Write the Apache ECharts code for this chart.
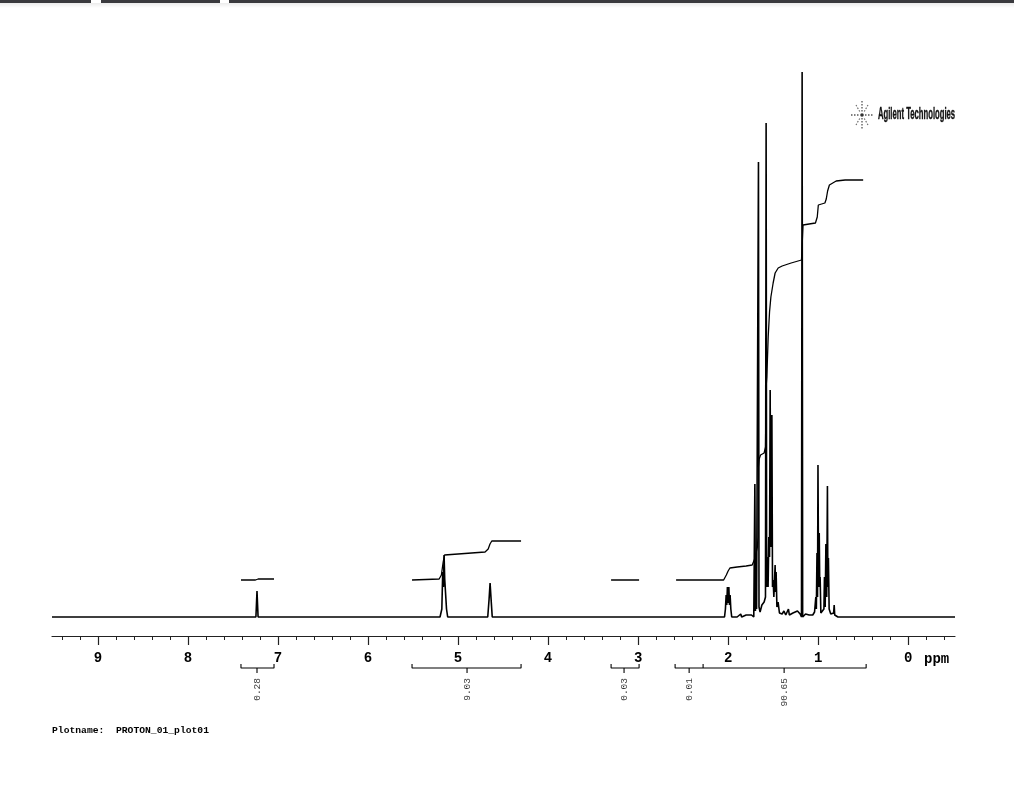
<!DOCTYPE html>
<html>
<head>
<meta charset="utf-8">
<script src="https://cdn.jsdelivr.net/npm/echarts@6/dist/echarts.min.js"></script>
<style>
html,body{margin:0;padding:0;background:#fff;}
#chart{width:1014px;height:785px;}
</style>
</head>
<body>
<div id="chart"></div>
<script>
// ---- data (ppm, intensity) ----
var ppmMin = -0.52, ppmMax = 9.51;
var majorTicks = [0, 1, 2, 3, 4, 5, 6, 7, 8, 9];
var minorTicks = [-0.4, -0.2, 0.2, 0.4, 0.6, 0.8, 1.2, 1.4, 1.6, 1.8, 2.2, 2.4, 2.6, 2.8,
  3.2, 3.4, 3.6, 3.8, 4.2, 4.4, 4.6, 4.8, 5.2, 5.4, 5.6, 5.8, 6.2, 6.4, 6.6, 6.8,
  7.2, 7.4, 7.6, 7.8, 8.2, 8.4, 8.6, 8.8, 9.2, 9.4];

var spectrum = [
  [9.51, 0], [7.245, 0], [7.233, 26], [7.221, 0],
  [5.20, 0], [5.18, 8], [5.17, 45], [5.162, 30], [5.155, 62], [5.148, 38], [5.14, 40], [5.128, 8], [5.115, 0],
  [4.67, 0], [4.655, 18], [4.644, 34], [4.633, 18], [4.62, 0],
  [3.16, 0], [3.156, 1.5], [3.15, 0],
  [2.04, 0], [2.03, 8], [2.022, 22], [2.015, 12], [2.008, 30], [2.0, 14], [1.992, 30], [1.985, 12],
  [1.978, 22], [1.97, 8], [1.96, 0], [1.94, 1], [1.9, 0], [1.86, 3], [1.85, 0], [1.80, 2], [1.78, 0], [1.74, 2],
  [1.715, 0], [1.703, 133], [1.697, 6], [1.69, 25], [1.684, 8], [1.668, 10], [1.663, 455], [1.657, 10],
  [1.645, 5], [1.625, 12], [1.60, 15], [1.585, 20], [1.578, 494], [1.572, 30], [1.565, 60], [1.556, 30],
  [1.548, 80], [1.540, 60], [1.533, 227], [1.526, 70], [1.514, 202], [1.507, 30], [1.500, 37], [1.492, 20],
  [1.478, 52], [1.472, 25], [1.467, 45], [1.458, 10], [1.445, 15], [1.43, 4], [1.40, 3], [1.38, 6],
  [1.36, 2], [1.33, 8], [1.32, 2], [1.28, 4], [1.26, 2], [1.23, 6], [1.20, 3], [1.185, 0],
  [1.178, 545], [1.172, 0], [1.14, 3], [1.10, 2], [1.08, 4], [1.06, 2], [1.04, 5], [1.026, 20],
  [1.02, 8], [1.013, 64], [1.007, 20], [1.002, 152], [0.995, 30], [0.988, 84], [0.982, 30], [0.978, 40],
  [0.970, 4], [0.95, 3], [0.936, 8], [0.930, 40], [0.922, 10], [0.914, 73], [0.905, 20], [0.897, 131],
  [0.892, 30], [0.886, 59], [0.878, 8], [0.86, 3], [0.84, 2], [0.828, 4], [0.822, 12], [0.816, 2],
  [0.78, 0], [-0.52, 0]
];

var integral1 = [[7.411, 37], [7.25, 37], [7.22, 38], [7.044, 38]];
var integral2 = [[5.511, 37], [5.21, 38], [5.185, 42], [5.165, 55], [5.15, 62], [5.13, 64], [4.70, 65],
  [4.665, 68], [4.645, 73], [4.625, 76], [4.30, 76]];
var integral3 = [[3.30, 37], [2.989, 37]];
var integral4 = [[2.578, 37], [2.05, 37], [2.035, 38], [2.02, 42], [2.0, 46], [1.98, 49], [1.90, 50],
  [1.80, 51], [1.733, 52], [1.715, 53], [1.705, 58], [1.695, 62], [1.675, 70], [1.668, 80], [1.662, 150],
  [1.655, 158], [1.64, 162], [1.60, 164], [1.585, 170], [1.578, 230], [1.57, 240], [1.555, 280],
  [1.54, 305], [1.525, 320], [1.50, 334], [1.478, 344], [1.444, 349], [1.40, 351], [1.30, 354],
  [1.185, 357], [1.175, 357], [1.168, 392], [1.10, 393], [1.03, 394], [1.01, 400], [0.998, 412],
  [0.985, 414], [0.925, 414], [0.91, 418], [0.895, 426], [0.875, 432], [0.86, 434], [0.80, 436],
  [0.70, 437], [0.50, 437]];

// integration regions (ppm) and values
var regionStarts = [7.411, 5.511, 3.30, 2.589, 2.278];
var regionEnds = [7.044, 4.30, 2.989, 2.278, 0.467];
var regionCenters = [7.233, 4.90, 3.156, 2.433, 1.378];
var regionValues = ['0.28', '9.03', '0.03', '0.01', '90.65'];

// ---- build bracket geometry (grid 2: y = pixels below the axis) ----
var bracketData = [];
for (var i = 0; i < regionStarts.length; i++) {
  bracketData.push([regionStarts[i], 28], [regionStarts[i], 32], [regionEnds[i], 32], [regionEnds[i], 28], null);
  bracketData.push([regionCenters[i], 32], [regionCenters[i], 37], null);
}
var labelData = regionCenters.map(function (c, i) { return { value: [c, 42], name: regionValues[i] }; });

var integralSeries = [integral1, integral2, integral3, integral4].map(function (d) {
  return { type: 'line', data: d, xAxisIndex: 0, yAxisIndex: 0, symbol: 'none', silent: true,
    lineStyle: { color: '#000', width: 1.3 }, animation: false };
});

var mono = '"Liberation Mono", "DejaVu Sans Mono", monospace';
var chart = echarts.init(document.getElementById('chart'), null, { renderer: 'canvas' });

function xAx(grid, extra) {
  return Object.assign({ type: 'value', gridIndex: grid, min: ppmMin, max: ppmMax, inverse: true,
    position: 'bottom', splitLine: { show: false } }, extra);
}

chart.setOption({
  backgroundColor: '#fff',
  animation: false,
  grid: [
    { left: 52, right: 59, top: 72, bottom: 149 },
    { left: 52, right: 59, top: 72, bottom: 149 },
    { left: 52, right: 59, top: 636, height: 100 }
  ],
  xAxis: [
    xAx(0, {
      axisLine: { onZero: false, lineStyle: { color: '#222', width: 1.2 } },
      axisTick: { customValues: majorTicks, length: 9, lineStyle: { color: '#222', width: 1.2 } },
      axisLabel: { customValues: majorTicks, margin: 15, color: '#000', fontSize: 14, fontWeight: 'bold',
        fontFamily: mono }
    }),
    xAx(1, {
      axisLine: { show: false, onZero: false },
      axisTick: { customValues: minorTicks, length: 4, lineStyle: { color: '#222', width: 1 } },
      axisLabel: { show: false }
    }),
    xAx(2, { show: false })
  ],
  yAxis: [
    { type: 'value', gridIndex: 0, min: -19, max: 545, show: false },
    { type: 'value', gridIndex: 1, min: -19, max: 545, show: false },
    { type: 'value', gridIndex: 2, min: 0, max: 100, inverse: true, show: false }
  ],
  series: [
    { type: 'line', data: spectrum, xAxisIndex: 0, yAxisIndex: 0, symbol: 'none', silent: true,
      lineStyle: { color: '#000', width: 1.6 }, animation: false }
  ].concat(integralSeries).concat([
    { type: 'line', data: bracketData, xAxisIndex: 2, yAxisIndex: 2, symbol: 'none', connectNulls: false,
      silent: true, lineStyle: { color: '#000', width: 1.1 }, animation: false },
    { type: 'scatter', data: labelData, xAxisIndex: 2, yAxisIndex: 2, symbolSize: 0, silent: true,
      label: { show: true, position: 'inside', rotate: 90, align: 'right', verticalAlign: 'middle',
        formatter: function (p) { return p.name; }, color: '#000', fontSize: 9.5, fontFamily: mono },
      animation: false }
  ]),
  graphic: [
    { type: 'rect', shape: { x: 0, y: 0, width: 91, height: 3 }, style: { fill: '#3a3a3e' } },
    { type: 'rect', shape: { x: 101, y: 0, width: 119, height: 3 }, style: { fill: '#3a3a3e' } },
    { type: 'rect', shape: { x: 229, y: 0, width: 785, height: 3 }, style: { fill: '#3a3a3e' } },
    { type: 'rect', shape: { x: 0, y: 3, width: 1014, height: 5 },
      style: { fill: new echarts.graphic.LinearGradient(0, 0, 0, 1, [{ offset: 0, color: 'rgba(0,0,0,0.08)' }, { offset: 1, color: 'rgba(0,0,0,0)' }]) } },
    { type: 'text', x: 924, y: 652, style: { text: 'ppm', fontSize: 14, fontWeight: 'bold', fontFamily: mono, fill: '#000' } },
    { type: 'text', x: 52, y: 726, style: { text: 'Plotname:  PROTON_01_plot01', fontSize: 9.7, fontWeight: 'bold', fontFamily: mono, fill: '#000' } },
    { type: 'text', x: 878, y: 107, scaleX: 0.48, style: { text: 'Agilent Technologies', fontSize: 16, fontWeight: 'bold',
      fontFamily: '"Liberation Sans Narrow", "Liberation Sans", Arial, sans-serif', fill: '#111',
      stroke: '#111', lineWidth: 0.4 } },
    { type: 'group', x: 862, y: 115, children: [
      { type: 'line', shape: { x1: 0, y1: -14, x2: 0, y2: -3 }, style: { stroke: '#555', lineWidth: 1.3, lineDash: [1.5, 1.5] } },
      { type: 'line', shape: { x1: 0, y1: 3, x2: 0, y2: 14 }, style: { stroke: '#555', lineWidth: 1.3, lineDash: [1.5, 1.5] } },
      { type: 'line', shape: { x1: -11, y1: 0, x2: -3, y2: 0 }, style: { stroke: '#555', lineWidth: 1.3, lineDash: [1.5, 1.5] } },
      { type: 'line', shape: { x1: 3, y1: 0, x2: 11, y2: 0 }, style: { stroke: '#555', lineWidth: 1.3, lineDash: [1.5, 1.5] } },
      { type: 'line', shape: { x1: -6, y1: -10, x2: -2, y2: -3 }, style: { stroke: '#666', lineWidth: 1.1, lineDash: [1.5, 1.5] } },
      { type: 'line', shape: { x1: 6, y1: -10, x2: 2, y2: -3 }, style: { stroke: '#666', lineWidth: 1.1, lineDash: [1.5, 1.5] } },
      { type: 'line', shape: { x1: -6, y1: 10, x2: -2, y2: 3 }, style: { stroke: '#666', lineWidth: 1.1, lineDash: [1.5, 1.5] } },
      { type: 'line', shape: { x1: 6, y1: 10, x2: 2, y2: 3 }, style: { stroke: '#666', lineWidth: 1.1, lineDash: [1.5, 1.5] } },
      { type: 'circle', shape: { cx: 0, cy: 0, r: 1.8 }, style: { fill: '#333' } }
    ] }
  ]
});
</script>
</body>
</html>
